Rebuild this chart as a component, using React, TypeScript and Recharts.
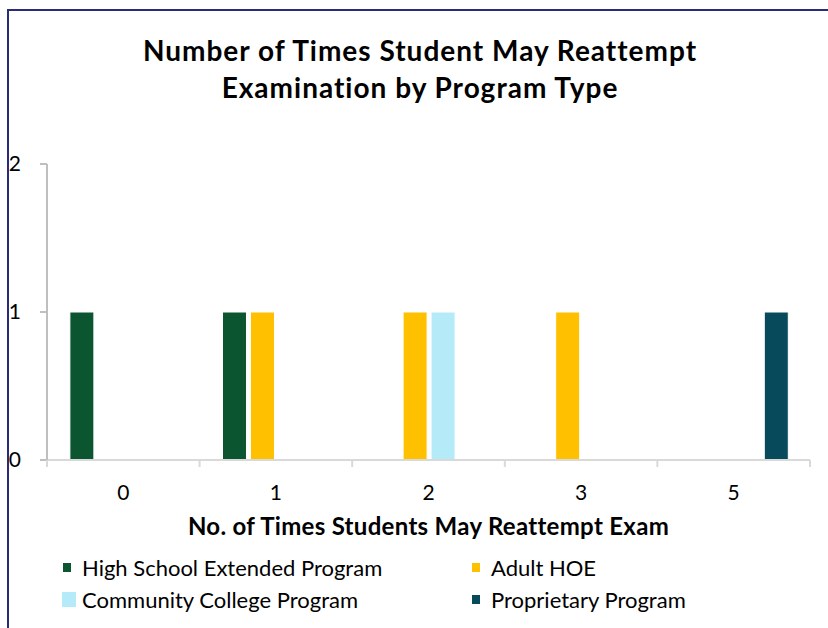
import React from 'react';
import { BarChart, Bar, XAxis, YAxis, Legend, Label } from 'recharts';

const categories = ['0', '1', '2', '3', '5'];
const highSchool = [1, 1, 0, 0, 0];
const adultHOE = [0, 1, 1, 1, 0];
const communityCollege = [0, 0, 1, 0, 0];
const proprietary = [0, 0, 0, 0, 1];
const yTicks = [0, 1, 2];

const seriesKeys = ['hs', 'adult', 'cc', 'prop'];
const seriesNames: Record<string, string> = {
  hs: 'High School Extended Program',
  adult: 'Adult HOE',
  cc: 'Community College Program',
  prop: 'Proprietary Program',
};
const colors: Record<string, string> = {
  hs: '#0b5530',
  adult: '#ffc000',
  cc: '#b5ebf9',
  prop: '#064a5c',
};

const data = categories.map((c, i) => ({
  cat: c,
  hs: highSchool[i],
  adult: adultHOE[i],
  cc: communityCollege[i],
  prop: proprietary[i],
}));

const FONT = 'Lato, "Open Sans", sans-serif';
const CHART_W = 828;
const CHART_H = 628;
const MARGIN = { top: 164, right: 18, bottom: 138, left: 0 };
const Y_AXIS_W = 47;
const PLOT_W = CHART_W - MARGIN.right - MARGIN.left - Y_AXIS_W;
const TICK_SIZE = 7;
const TICK_MARGIN = 18;
const AXIS_GREY = '#d9d9d9';

const markerSize: Record<string, [number, number]> = {
  hs: [8, 9],
  adult: [8, 9],
  cc: [14, 15],
  prop: [8, 9],
};

const CategoryTick = (props: any) => {
  const { x, y, payload, index, visibleTicksCount } = props;
  const band = PLOT_W / categories.length;
  const axisY = y - TICK_SIZE - TICK_MARGIN;
  const isLast = index === (visibleTicksCount ?? categories.length) - 1;
  return (
    <g>
      <line x1={x - band / 2} x2={x - band / 2} y1={axisY} y2={axisY + TICK_SIZE} stroke={AXIS_GREY} strokeWidth={2} />
      {isLast && (
        <line x1={x + band / 2} x2={x + band / 2} y1={axisY} y2={axisY + TICK_SIZE} stroke={AXIS_GREY} strokeWidth={2} />
      )}
      <text x={x} y={y} dy="0.71em" textAnchor="middle" fill="#000" fontSize={21} fontFamily={FONT}>
        {payload.value}
      </text>
    </g>
  );
};

const renderLegend = (props: any) => {
  const { payload } = props;
  const ordered = seriesKeys
    .map((k) => payload.find((p: any) => p.dataKey === k))
    .filter(Boolean);
  return (
    <div
      style={{
        display: 'grid',
        gridTemplateColumns: '409px 340px',
        marginLeft: 62,
        fontFamily: FONT,
        fontSize: 22,
        color: '#000',
      }}
    >
      {ordered.map((entry: any) => {
        const key = entry.dataKey as string;
        const [w, h] = markerSize[key] || [8, 9];
        return (
          <div key={key} style={{ display: 'flex', alignItems: 'center', height: 32 }}>
            <div style={{ width: 20, display: 'flex', alignItems: 'center' }}>
              <span
                style={{
                  display: 'inline-block',
                  width: w,
                  height: h,
                  background: entry.color,
                  marginLeft: w > 10 ? 0 : 1,
                }}
              />
            </div>
            <span style={{ whiteSpace: 'nowrap' }}>{entry.value}</span>
          </div>
        );
      })}
    </div>
  );
};

export default function App() {
  return (
    <div style={{ position: 'absolute', left: 0, top: 0, width: CHART_W, height: CHART_H, background: '#fff', overflow: 'hidden' }}>
      <div
        style={{
          position: 'absolute',
          left: 7,
          top: 9,
          width: 830,
          height: 630,
          borderTop: '2px solid #2a2c78',
          borderLeft: '2px solid #2a2c78',
        }}
      />
      <div
        style={{
          position: 'absolute',
          left: 20,
          top: 32,
          width: 800,
          textAlign: 'center',
          fontFamily: FONT,
          fontWeight: 700,
          fontSize: 28,
          letterSpacing: 1,
          lineHeight: '37px',
          color: '#000',
        }}
      >
        <div>Number of Times Student May Reattempt</div>
        <div>Examination by Program Type</div>
      </div>
      <div style={{ position: 'absolute', left: 0, top: 0 }}>
        <BarChart
          width={CHART_W}
          height={CHART_H}
          data={data}
          margin={MARGIN}
          barCategoryGap="15%"
          barGap={4}
        >
          <XAxis
            dataKey="cat"
            height={30}
            axisLine={{ stroke: AXIS_GREY, strokeWidth: 2 }}
            tickLine={false}
            tickSize={TICK_SIZE}
            tickMargin={TICK_MARGIN}
            tick={<CategoryTick />}
          >
            <Label
              value="No. of Times Students May Reattempt Exam"
              position="bottom"
              offset={28}
              style={{ fill: '#000', fontSize: 24, fontWeight: 700, fontFamily: FONT, letterSpacing: 0.3 }}
            />
          </XAxis>
          <YAxis
            width={Y_AXIS_W}
            domain={[0, 2]}
            ticks={yTicks}
            axisLine={{ stroke: '#bfbfbf', strokeWidth: 2 }}
            tickLine={{ stroke: '#bfbfbf', strokeWidth: 2 }}
            tickSize={TICK_SIZE}
            tickMargin={19}
            tick={{ fill: '#000', fontSize: 21, fontFamily: FONT }}
          />
          {seriesKeys.map((k) => (
            <Bar
              key={k}
              dataKey={k}
              name={seriesNames[k]}
              fill={colors[k]}
              stroke="#fff"
              strokeWidth={1}
              isAnimationActive={false}
            />
          ))}
          <Legend
            layout="vertical"
            align="center"
            verticalAlign="middle"
            content={renderLegend}
            wrapperStyle={{ top: 551, left: 0, width: CHART_W }}
          />
        </BarChart>
      </div>
    </div>
  );
}
